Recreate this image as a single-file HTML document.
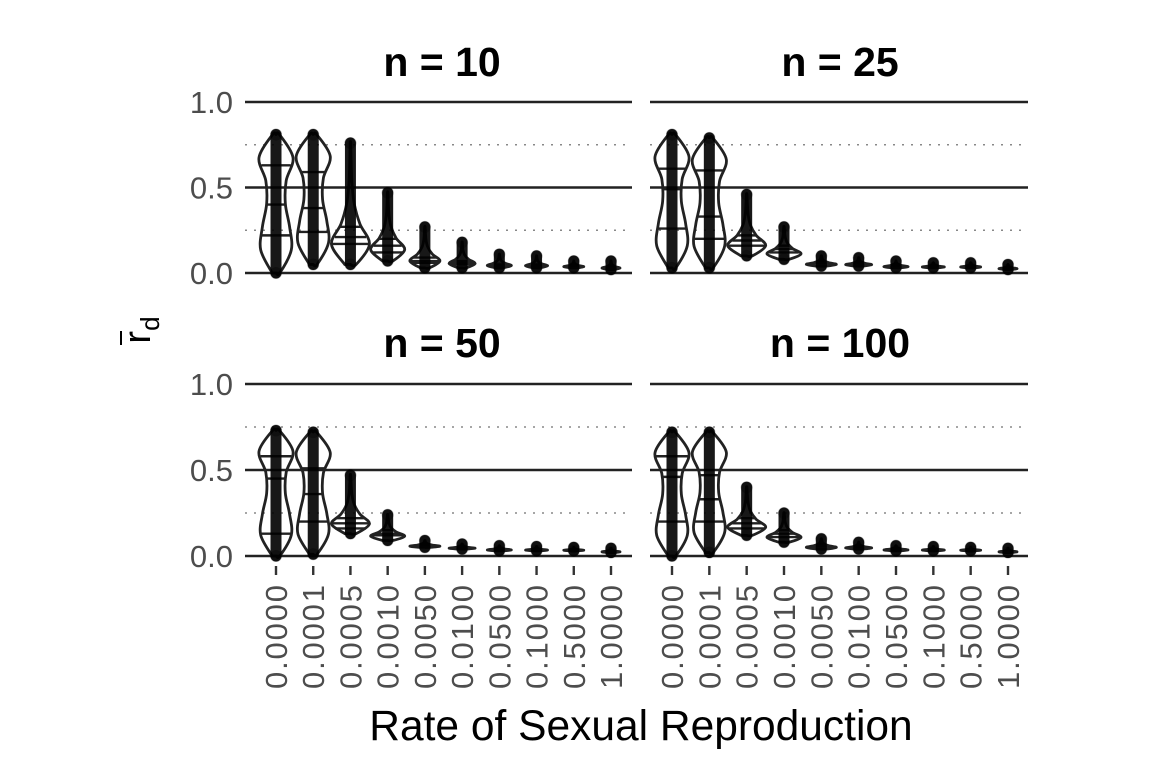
<!DOCTYPE html>
<html><head><meta charset="utf-8"><style>
html,body{margin:0;padding:0;background:#fff;}
svg{display:block;font-family:"Liberation Sans",sans-serif;}
</style></head><body>
<svg id="c" width="1152" height="768" viewBox="0 0 1152 768">
<text x="442" y="76" font-size="41" font-weight="bold" text-anchor="middle">n = 10</text>
<text x="840" y="76" font-size="41" font-weight="bold" text-anchor="middle">n = 25</text>
<text x="442" y="357" font-size="41" font-weight="bold" text-anchor="middle">n = 50</text>
<text x="840" y="357" font-size="41" font-weight="bold" text-anchor="middle">n = 100</text>
<g transform="translate(150,330) rotate(-90)">
<text x="0" y="0" font-size="38" text-anchor="middle">r<tspan font-size="26" dy="9">d</tspan></text>
<line x1="-1" x2="-15" y1="-29" y2="-29" stroke="#000" stroke-width="2"/>
</g>
<text x="641" y="740" font-size="42.5" text-anchor="middle">Rate of Sexual Reproduction</text>
</svg>
<script>
const categories=["0.0000","0.0001","0.0005","0.0010","0.0050","0.0100","0.0500","0.1000","0.5000","1.0000"];
const yTicks=[0,0.5,1.0];
const yTickLabels=["0.0","0.5","1.0"];
const panelNames=["n10","n25","n50","n100"];
// per panel: [min,q1,median,q3,max] per category
const statsN10=[[0,.22,.40,.63,.81],[.05,.24,.38,.59,.81],[.05,.17,.21,.27,.76],[.07,.12,.16,.20,.47],[.03,.06,.07,.09,.27],[.03,.05,.06,.07,.18],[.03,.04,.045,.05,.11],[.03,.04,.045,.05,.10],[.03,.035,.04,.045,.07],[.02,.03,.035,.04,.07]];
const statsN25=[[.03,.26,.49,.61,.81],[.03,.20,.33,.60,.79],[.10,.16,.19,.22,.46],[.08,.12,.14,.16,.27],[.04,.055,.06,.07,.10],[.04,.05,.055,.06,.09],[.03,.04,.045,.05,.07],[.03,.04,.045,.05,.06],[.03,.035,.04,.045,.06],[.02,.03,.035,.04,.05]];
const statsN50=[[0,.13,.45,.58,.73],[.01,.20,.36,.51,.72],[.13,.16,.19,.22,.47],[.09,.12,.13,.15,.24],[.05,.06,.065,.07,.09],[.04,.05,.055,.06,.07],[.03,.04,.045,.05,.06],[.03,.035,.04,.045,.055],[.03,.035,.04,.045,.05],[.02,.03,.035,.04,.045]];
const statsN100=[[0,.20,.46,.58,.72],[.02,.20,.33,.47,.72],[.12,.16,.19,.22,.40],[.08,.11,.13,.15,.25],[.04,.055,.06,.07,.10],[.04,.05,.055,.06,.08],[.03,.04,.045,.05,.06],[.03,.035,.04,.045,.055],[.03,.035,.04,.045,.05],[.02,.03,.035,.04,.045]];
const profileTop=[0.45,0.9,0.8,0.55,0.6,1,0.4];
const profileSkew=[0.6,1,0.5,0.2,0.08,0.04,0.03];
const maxHalfWidth=[17,17,19,17,15,13,12,11,10,9];
const S=[statsN10,statsN25,statsN50,statsN100];
const svg=document.getElementById('c');
const NS='http://www.w3.org/2000/svg';
function mk(t,a,p){const e=document.createElementNS(NS,t);for(const k in a)e.setAttribute(k,a[k]);(p||svg).appendChild(e);return e;}
const panels=[{x0:245,x1:632,yb:273,yt:102,c0:276,c1:611},{x0:650,x1:1028,yb:273,yt:102,c0:672,c1:1008},{x0:245,x1:632,yb:556,yt:384,c0:276,c1:611},{x0:650,x1:1028,yb:556,yt:384,c0:672,c1:1008}];
panels.forEach((P,pi)=>{
  const g=mk('g',{});
  
  
  const y=v=>P.yb-(P.yb-P.yt)*v;
  const x=i=>P.c0+(P.c1-P.c0)*i/(categories.length-1);
  [0.25,0.75].forEach(v=>{const l=mk('line',{x1:P.x0,x2:P.x1,y1:y(v),y2:y(v),stroke:'#888','stroke-width':1.5,'stroke-dasharray':'2 7'},g);});
  yTicks.forEach((v,k)=>{const l=mk('line',{x1:P.x0,x2:P.x1,y1:y(v),y2:y(v),stroke:'#222','stroke-width':2.4},g);
    if(P.x0<300){const t=mk('text',{x:233,y:y(v)+11,'font-size':31,fill:'#4d4d4d','text-anchor':'end'},g);t.textContent=yTickLabels[k];}});
  S[pi].forEach((s,i)=>{
    const [mn,q1,md,q3,mx]=s;const cx=x(i);
    const prof=(i<2)?profileTop:profileSkew;const w=maxHalfWidth[i];
    const n=prof.length;const right=[],left=[];
    for(let j=0;j<n;j++){const v=mn+(mx-mn)*j/(n-1);const hw=(j==0||j==n-1)?prof[j]*w*0.5:prof[j]*w;right.push([cx+hw,y(v)]);left.unshift([cx-hw,y(v)]);}
    const pts=[[cx,y(mn)],...right,[cx,y(mx)],...left];
    let d='M'+pts[0].join(',');
    for(let k=0;k<pts.length-1;k++){const p0=pts[Math.max(0,k-1)],p1=pts[k],p2=pts[k+1],p3=pts[Math.min(pts.length-1,k+2)];
      d+=` C${p1[0]+(p2[0]-p0[0])/6},${p1[1]+(p2[1]-p0[1])/6} ${p2[0]-(p3[0]-p1[0])/6},${p2[1]-(p3[1]-p1[1])/6} ${p2[0]},${p2[1]}`;}
    const vp=mk('path',{d:d+'Z',fill:'none',stroke:'#222','stroke-width':2.8},g);
    
    
    const hwAt=v=>{const f=(v-mn)/(mx-mn)*(n-1);const j=Math.min(n-2,Math.max(0,Math.floor(f)));const t=f-j;return (prof[j]*(1-t)+prof[j+1]*t)*w;};
    [q1,md,q3].forEach(q=>{const h=hwAt(q);const l=mk('line',{x1:cx-h,x2:cx+h,y1:y(q),y2:y(q),stroke:'#222','stroke-width':2.4},g);});
    const pl=mk('line',{x1:cx,x2:cx,y1:y(mn),y2:y(mx),stroke:'#000','stroke-width':11,'stroke-linecap':'round','opacity':0.9},g);
    
    [mn,mx].forEach(v=>{const c=mk('circle',{cx:cx,cy:y(v),r:6,fill:'#000','fill-opacity':0.3},g);});
    if(pi>=2){
      const tk=mk('line',{x1:cx,x2:cx,y1:566,y2:575,stroke:'#333','stroke-width':2.4},g);
      const t=mk('text',{x:0,y:0,'font-size':31,fill:'#4d4d4d','text-anchor':'end',textLength:104,lengthAdjust:'spacing',transform:`translate(${cx+11},585) rotate(-90)`},g);
      t.textContent=categories[i];
    }
  });
});
</script>
</body></html>
